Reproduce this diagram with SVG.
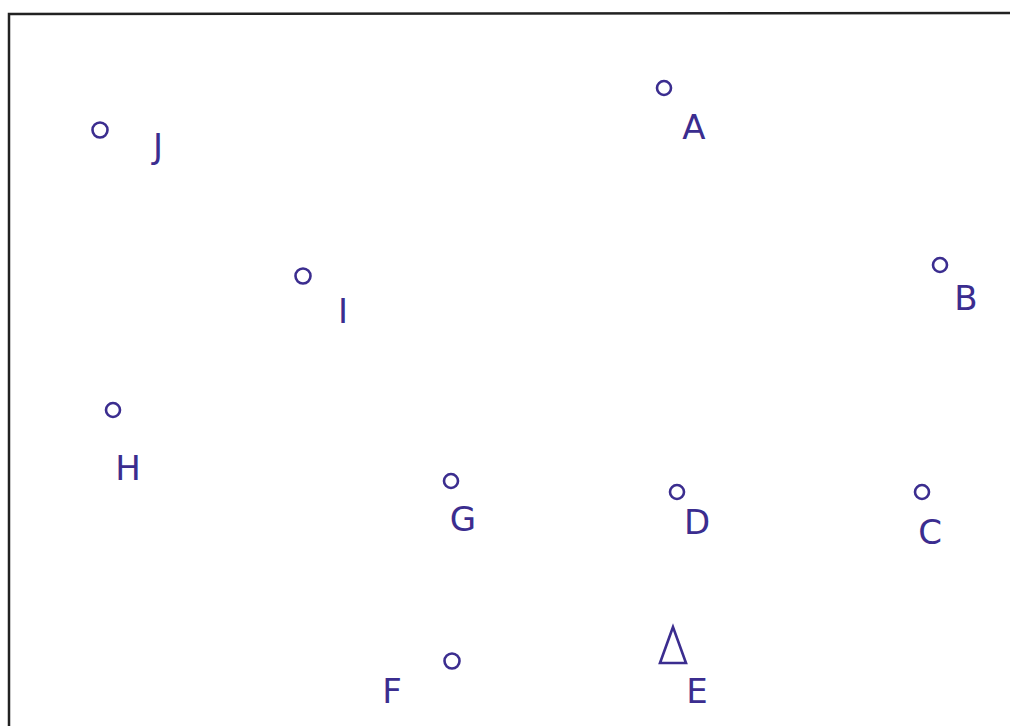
<svg xmlns="http://www.w3.org/2000/svg" width="1010" height="726" viewBox="0 0 1010 726">
<style>
.n{fill:none;stroke:#3b2d8f;stroke-width:2.6}
.t{fill:#3b2d8f;font-family:"DejaVu Sans","Liberation Sans",sans-serif;font-size:34px;text-anchor:middle}
</style>
<rect x="0" y="0" width="1010" height="726" fill="#fff"/>
<path d="M9,726 L9,14 L1010,13" fill="none" stroke="#222" stroke-width="2.5"/>
<g id="connectors"></g>
<g id="A"><circle class="n" cx="664" cy="88" r="7"/><text class="t" x="694" y="139">A</text></g>
<g id="B"><circle class="n" cx="940" cy="265" r="7"/><text class="t" x="966" y="310">B</text></g>
<g id="C"><circle class="n" cx="922" cy="492" r="7"/><text class="t" x="930" y="544">C</text></g>
<g id="D"><circle class="n" cx="677" cy="492" r="7"/><text class="t" x="697" y="534">D</text></g>
<g id="E"><path class="n" d="M673,627 L660,663 L686,663 Z"/><text class="t" x="697" y="703">E</text></g>
<g id="F"><circle class="n" cx="452" cy="661" r="7.5"/><text class="t" x="392" y="703">F</text></g>
<g id="G"><circle class="n" cx="451" cy="481" r="7"/><text class="t" x="463" y="531">G</text></g>
<g id="H"><circle class="n" cx="113" cy="410" r="7"/><text class="t" x="128" y="480">H</text></g>
<g id="I"><circle class="n" cx="303" cy="276" r="7.5"/><text class="t" x="343" y="323">I</text></g>
<g id="J"><circle class="n" cx="100" cy="130" r="7.5"/><text class="t" x="158" y="158">J</text></g>
</svg>
